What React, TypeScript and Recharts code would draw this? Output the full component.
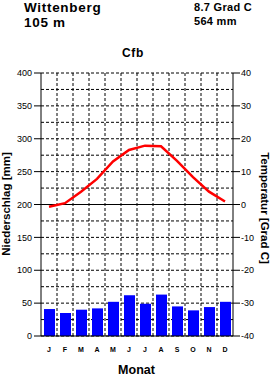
import React from 'react';
import { ComposedChart, Bar, Line, XAxis, YAxis, CartesianGrid, ReferenceLine } from 'recharts';

const months = ['J', 'F', 'M', 'A', 'M', 'J', 'J', 'A', 'S', 'O', 'N', 'D'];
const precipitation = [41, 35, 40, 42, 52, 62, 49, 63, 45, 39, 44, 52];
const temperature = [-0.7, 0.4, 3.9, 7.8, 13.1, 16.6, 17.9, 17.7, 13.3, 8.3, 3.9, 0.9];
const precipTicks = [0, 50, 100, 150, 200, 250, 300, 350, 400];
const tempTicks = [-40, -30, -20, -10, 0, 10, 20, 30, 40];

const station = 'Wittenberg';
const elevation = '105 m';
const meanTemp = '8.7 Grad C';
const annualPrecip = '564 mm';
const climateClass = 'Cfb';

const data = months.map((m, i) => ({ idx: i, p: precipitation[i], t: temperature[i] }));

const FONT = '"Liberation Sans", Arial, Helvetica, sans-serif';

const MonthTick = (props: any) => {
  const { x, y, payload } = props;
  return (
    <text x={x} y={y} dy={5} textAnchor="middle" fontSize={7} fontWeight="bold" fontFamily={FONT} fill="#000">
      {months[payload.value]}
    </text>
  );
};

export default function App() {
  const W = 271;
  const H = 377;
  return (
    <div style={{ position: 'absolute', left: 0, top: 0, width: W, height: H, background: '#fff', fontFamily: FONT }}>
      <div style={{ position: 'absolute', left: 0, top: 0 }}>
        <ComposedChart
          width={W}
          height={H}
          data={data}
          margin={{ top: 73, right: 0, bottom: 0, left: 0 }}
          barCategoryGap={0}
        >
          <CartesianGrid
            stroke="#000"
            strokeDasharray="3 2"
            strokeWidth={1}
            horizontalCoordinatesGenerator={(props: any) => {
              const o = props.offset;
              return Array.from({ length: 17 }, (_, i) => o.top + (i * o.height) / 16);
            }}
            verticalCoordinatesGenerator={(props: any) => {
              const o = props.offset;
              return Array.from({ length: 11 }, (_, i) => o.left + ((i + 1) * o.width) / 12);
            }}
          />
          <XAxis
            dataKey="idx"
            type="category"
            interval={0}
            height={41}
            tickSize={0}
            tickMargin={11}
            axisLine={{ stroke: '#000', strokeWidth: 1 }}
            tickLine={false}
            tick={<MonthTick />}
          />
          <YAxis
            yAxisId="left"
            orientation="left"
            domain={[0, 400]}
            ticks={precipTicks}
            interval={0}
            width={41}
            tickSize={7}
            tickMargin={2}
            axisLine={{ stroke: '#000', strokeWidth: 1 }}
            tickLine={{ stroke: '#000' }}
            tick={{ fill: '#000', fontSize: 9, fontFamily: FONT }}
            allowDataOverflow
          />
          <YAxis
            yAxisId="right"
            orientation="right"
            domain={[-40, 40]}
            ticks={tempTicks}
            interval={0}
            width={38}
            tickSize={7}
            tickMargin={1}
            axisLine={{ stroke: '#000', strokeWidth: 1 }}
            tickLine={{ stroke: '#000' }}
            tick={{ fill: '#000', fontSize: 9, fontFamily: FONT }}
            allowDataOverflow
          />
          <ReferenceLine yAxisId="left" y={200} stroke="#000" strokeWidth={1} />
          <Bar yAxisId="left" dataKey="p" fill="#0000FF" barSize={11} isAnimationActive={false} />
          <Line
            yAxisId="right"
            dataKey="t"
            type="linear"
            stroke="#FF0000"
            strokeWidth={2.5}
            dot={false}
            activeDot={false}
            isAnimationActive={false}
          />
        </ComposedChart>
      </div>
      <svg
        width={W}
        height={H}
        style={{ position: 'absolute', left: 0, top: 0, pointerEvents: 'none' }}
        fontFamily={FONT}
      >
        <text x={24} y={12} fontSize={13.5} fontWeight="bold" letterSpacing={0.7} fill="#000">{station}</text>
        <text x={24} y={27} fontSize={13.5} fontWeight="bold" letterSpacing={0.7} fill="#000">{elevation}</text>
        <text x={194} y={11} fontSize={11} fontWeight="bold" letterSpacing={0.3} fill="#000">{meanTemp}</text>
        <text x={194} y={25} fontSize={11} fontWeight="bold" letterSpacing={0.3} fill="#000">{annualPrecip}</text>
        <text x={133} y={57} fontSize={12} fontWeight="bold" letterSpacing={0.6} textAnchor="middle" fill="#000">{climateClass}</text>
        <text
          x={0}
          y={0}
          transform="translate(10,204) rotate(-90)"
          fontSize={11.5}
          fontWeight="bold"
          textAnchor="middle"
          fill="#000"
        >
          Niederschlag [mm]
        </text>
        <text
          x={0}
          y={0}
          transform="translate(261,208) rotate(90)"
          fontSize={11.5}
          fontWeight="bold"
          textAnchor="middle"
          fill="#000"
        >
          Temperatur [Grad C]
        </text>
        <text x={136.5} y={374} fontSize={12.5} fontWeight="bold" textAnchor="middle" fill="#000">Monat</text>
      </svg>
    </div>
  );
}
